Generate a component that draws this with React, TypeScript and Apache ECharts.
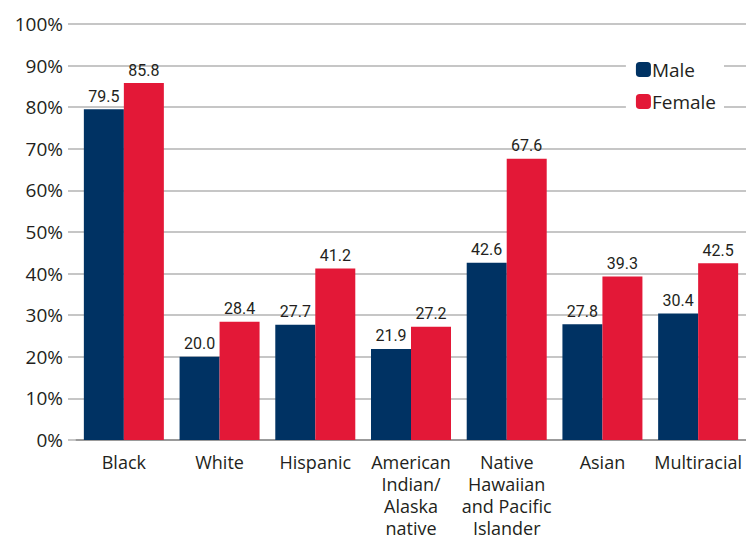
import React, { useEffect, useRef } from "react";
import * as echarts from "echarts";

const categories = [
  "Black",
  "White",
  "Hispanic",
  "American\nIndian/\nAlaska\nnative",
  "Native\nHawaiian\nand Pacific\nIslander",
  "Asian",
  "Multiracial",
];
const maleValues = [79.5, 20.0, 27.7, 21.9, 42.6, 27.8, 30.4];
const femaleValues = [85.8, 28.4, 41.2, 27.2, 67.6, 39.3, 42.5];
const yTicks = [0, 10, 20, 30, 40, 50, 60, 70, 80, 90, 100];

const FONT = "'Open Sans', 'Noto Sans', sans-serif";
const LABEL_FONT = "'Roboto', sans-serif";

export default function App() {
  const ref = useRef<HTMLDivElement>(null);
  useEffect(() => {
    const chart = echarts.init(ref.current!, undefined, { renderer: "svg" });
    chart.setOption({
      animation: false,
      grid: { left: 76, right: 0, top: 24, bottom: 99, containLabel: false, outerBoundsMode: "none" },
      legend: {
        right: 22,
        top: 58,
        orient: "vertical",
        itemWidth: 15,
        itemHeight: 15,
        itemGap: 13,
        backgroundColor: "#fff",
        padding: [2, 8, 2, 10],
        textStyle: { fontFamily: FONT, fontSize: 19, color: "#231f20", padding: [0, 0, 0, -4] },
        data: ["Male", "Female"],
      },
      xAxis: {
        type: "category",
        data: categories,
        axisLine: { lineStyle: { color: "#8c8c8c", width: 1.5 } },
        axisTick: { show: false },
        axisLabel: {
          interval: 0,
          fontFamily: FONT,
          fontSize: 18,
          color: "#231f20",
          lineHeight: 22,
          margin: 11,
        },
      },
      yAxis: {
        type: "value",
        min: 0,
        max: 100,
        interval: 10,
        axisLine: { show: false },
        axisTick: { show: true, length: 8, lineStyle: { color: "#b3b3b3", width: 1.5 } },
        splitLine: { lineStyle: { color: "#b3b3b3", width: 1.5 } },
        axisLabel: {
          fontFamily: FONT,
          fontSize: 19,
          color: "#231f20",
          margin: 13,
          formatter: (v: number) => (yTicks.includes(v) ? v + "%" : ""),
        },
      },
      series: [
        {
          name: "Male",
          type: "bar",
          data: maleValues,
          barWidth: 40,
          barGap: "0%",
          itemStyle: { color: "#003263" },
          label: {
            show: true,
            position: "top",
            distance: 5,
            fontFamily: LABEL_FONT,
            fontSize: 16,
            color: "#231f20",
            formatter: (p: any) => p.value.toFixed(1),
          },
        },
        {
          name: "Female",
          type: "bar",
          data: femaleValues,
          barWidth: 40,
          barGap: "0%",
          itemStyle: { color: "#e31837" },
          label: {
            show: true,
            position: "top",
            distance: 5,
            fontFamily: LABEL_FONT,
            fontSize: 16,
            color: "#231f20",
            formatter: (p: any) => p.value.toFixed(1),
          },
        },
      ],
    });
    return () => chart.dispose();
  }, []);
  return <div ref={ref} style={{ width: 746, height: 539, position: "absolute", left: 0, top: 0 }} />;
}
